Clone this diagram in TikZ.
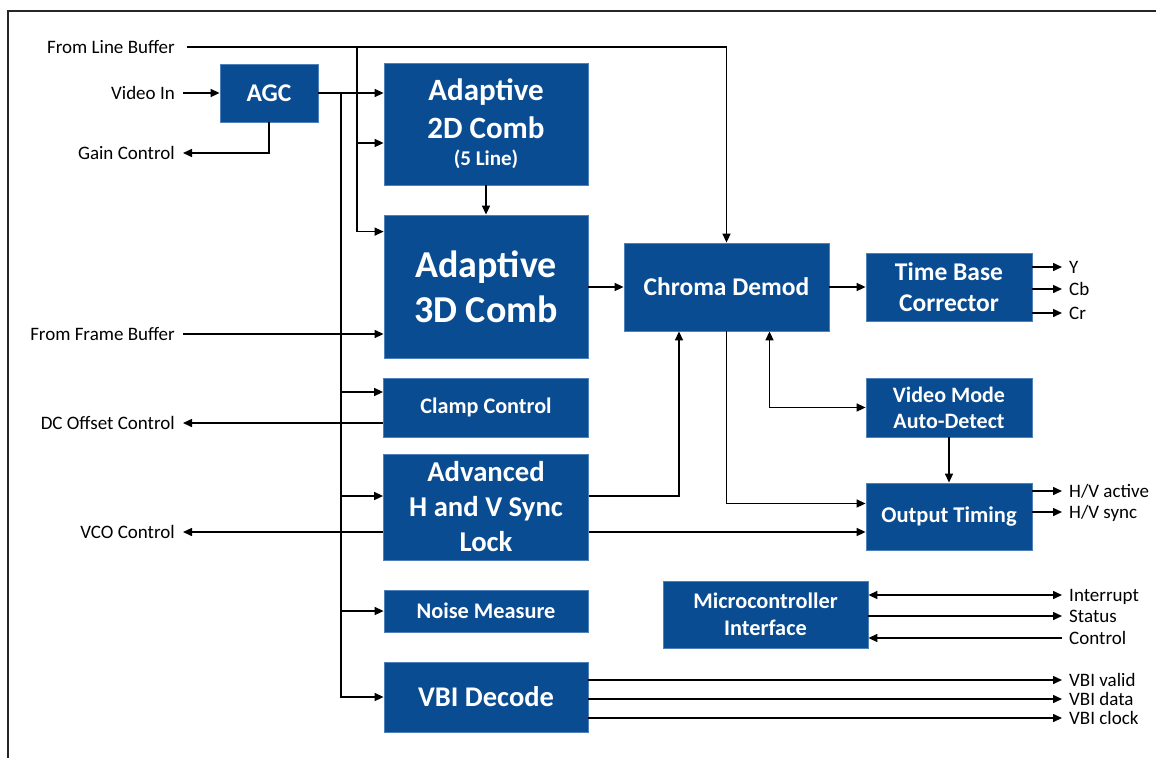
\documentclass[tikz,border=0pt]{standalone}
\usepackage{fontspec}
\setmainfont{Carlito}
\usepackage{tikz}
\usetikzlibrary{arrows.meta}
\definecolor{boxblue}{RGB}{10,76,145}
\definecolor{boxedge}{RGB}{78,128,186}

\begin{document}
\begin{tikzpicture}[x=1pt, y=-1pt,
  block/.style = {fill=boxblue, draw=boxedge, line width=0.8pt, text=white, align=center, inner sep=0pt},
  lbl/.style = {inner sep=0pt, font=\fontsize{19}{22}\selectfont, text height=12.5pt, text depth=0pt},
  sig/.style = {line width=1.5pt, -{Triangle[length=9pt, width=8pt]}},
  sigboth/.style = {line width=1.5pt, {Triangle[length=9pt, width=8pt]}-{Triangle[length=9pt, width=8pt]}}]
\useasboundingbox (0,0) rectangle (1156,758);
\draw [line width=2pt, black!85] (8,758) -- (8,11) -- (1156,11);

% blocks
\node [block, minimum width=98pt, minimum height=58pt, font=\bfseries\fontsize{25.5}{30}\selectfont] (agc) at (269,93) {AGC};
\node [block, minimum width=204pt, minimum height=122pt, font=\bfseries\fontsize{31}{38}\selectfont] (comb2d) at (486,124) {Adaptive\\2D Comb\\[-11pt]{\fontsize{21}{25}\selectfont (5 Line)}};
\node [block, minimum width=204pt, minimum height=143pt, font=\bfseries\fontsize{38}{45}\selectfont] (comb3d) at (486,286.5) {Adaptive\\3D Comb};
\node [block, minimum width=205pt, minimum height=88pt, font=\bfseries\fontsize{25.5}{30}\selectfont] (chroma) at (726.5,287) {Chroma Demod};
\node [block, minimum width=166pt, minimum height=68pt, font=\bfseries\fontsize{25.5}{31}\selectfont] (tbc) at (949,287) {Time Base\\Corrector};
\node [block, minimum width=205pt, minimum height=59pt, font=\bfseries\fontsize{22.2}{26}\selectfont] (clamp) at (486,407.5) {Clamp Control};
\node [block, minimum width=205pt, minimum height=106pt, font=\bfseries\fontsize{28.7}{35}\selectfont] (sync) at (486,507) {Advanced\\H and V Sync\\Lock};
\node [block, minimum width=166pt, minimum height=59pt, font=\bfseries\fontsize{22}{26}\selectfont] (vmode) at (949,407.5) {Video Mode\\Auto-Detect};
\node [block, minimum width=166pt, minimum height=67pt, font=\bfseries\fontsize{22.5}{27}\selectfont] (otiming) at (949,516.5) {Output Timing};
\node [block, minimum width=204pt, minimum height=42pt, font=\bfseries\fontsize{22.3}{26}\selectfont] (noise) at (486,611) {Noise Measure};
\node [block, minimum width=204pt, minimum height=70pt, font=\bfseries\fontsize{28.5}{33}\selectfont] (vbi) at (486,697) {VBI Decode};
\node [block, minimum width=205pt, minimum height=67pt, font=\bfseries\fontsize{22.3}{27}\selectfont] (mcu) at (765.5,614.5) {Microcontroller\\Interface};

% left labels
\node [lbl, anchor=east] (lbuf) at (175,47) {From Line Buffer};
\node [lbl, anchor=east] (vin) at (175,93) {Video In};
\node [lbl, anchor=east] (gain) at (175,153) {Gain Control};
\node [lbl, anchor=east] (fbuf) at (175,334) {From Frame Buffer};
\node [lbl, anchor=east] (dcoff) at (175,423) {DC Offset Control};
\node [lbl, anchor=east] (vco) at (175,532) {VCO Control};

% right labels
\node [lbl, anchor=west] (ylab) at (1069,267) {Y};
\node [lbl, anchor=west] (cblab) at (1069,289) {Cb};
\node [lbl, anchor=west] (crlab) at (1069,313) {Cr};
\node [lbl, anchor=west] (hva) at (1069,491) {H/V active};
\node [lbl, anchor=west] (hvs) at (1069,512) {H/V sync};
\node [lbl, anchor=west] (intr) at (1069,595) {Interrupt};
\node [lbl, anchor=west] (stat) at (1069,616) {Status};
\node [lbl, anchor=west] (ctrl) at (1069,638) {Control};
\node [lbl, anchor=west] (vvalid) at (1069,680) {VBI valid};
\node [lbl, anchor=west] (vdata) at (1069,699) {VBI data};
\node [lbl, anchor=west] (vclk) at (1069,718) {VBI clock};

\coordinate (lbtap) at (357,47);
\coordinate (bus) at (341,93);

% line buffer
\draw [sig] ([xshift=12pt]lbuf.east) -| (chroma.north);
\draw [sig] (lbtap) |- ([yshift=-19pt]comb2d.west);
\draw [sig] (lbtap) |- ([yshift=-17pt]comb3d.north west);
% agc
\draw [sig] ([xshift=8pt]vin.east) -- (agc.west);
\draw [sig] (agc.east) -- (agc.east -| comb2d.west);
\draw [sig] (agc.south) |- ([xshift=8pt]gain.east);
\draw [sig] (bus) |- ([yshift=15.5pt]clamp.west);
\draw [sig] (bus) |- ([yshift=11pt]sync.west);
\draw [sig] (bus) |- (noise.west);
\draw [sig] (bus) |- (vbi.west);
% combs
\draw [sig] (comb2d.south) -- (comb3d.north);
\draw [sig] ([xshift=8pt]fbuf.east) -- (fbuf.east -| comb3d.west);
\draw [sig] (comb3d.east |- chroma.west) -- (chroma.west);
% clamp and sync
\draw [sig] ([yshift=-15.5pt]clamp.west) -- ([xshift=8pt]dcoff.east);
\draw [sig] ([yshift=-25pt]sync.west) -- ([xshift=8pt]vco.east);
\draw [sig] ([yshift=11pt]sync.east) -| ([xshift=-47.5pt]chroma.south);
\draw [sig] ([yshift=-25pt]sync.east) -- ([yshift=-25pt]sync.east -| otiming.west);
% chroma
\draw [sig] (chroma.south) |- ([yshift=13pt]otiming.west);
\draw [sigboth] ([xshift=43pt]chroma.south) |- (vmode.west);
\draw [sig] (vmode.south) -- (otiming.north);
\draw [sig] (chroma.east) -- (tbc.west);
% outputs
\draw [sig] (tbc.east |- ylab.west) -- ([xshift=-7pt]ylab.west);
\draw [sig] (tbc.east |- cblab.west) -- ([xshift=-7pt]cblab.west);
\draw [sig] (tbc.east |- crlab.west) -- ([xshift=-7pt]crlab.west);
\draw [sig] (otiming.east |- hva.west) -- ([xshift=-7pt]hva.west);
\draw [sig] (otiming.east |- hvs.west) -- ([xshift=-7pt]hvs.west);
\draw [sigboth] (mcu.east |- intr.west) -- ([xshift=-7pt]intr.west);
\draw [sig] (mcu.east |- stat.west) -- ([xshift=-7pt]stat.west);
\draw [sig] ([xshift=-7pt]ctrl.west) -- (mcu.east |- ctrl.west);
\draw [sig] (vbi.east |- vvalid.west) -- ([xshift=-7pt]vvalid.west);
\draw [sig] (vbi.east |- vdata.west) -- ([xshift=-7pt]vdata.west);
\draw [sig] (vbi.east |- vclk.west) -- ([xshift=-7pt]vclk.west);
\end{tikzpicture}
\end{document}
